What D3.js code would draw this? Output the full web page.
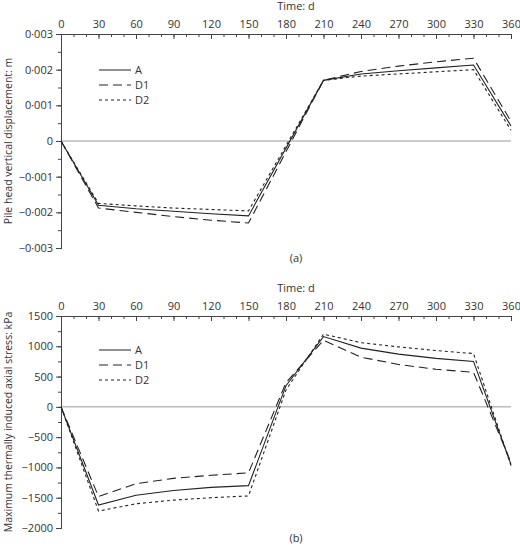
<!DOCTYPE html><html><head><meta charset="utf-8"><script src="https://cdn.jsdelivr.net/npm/d3@7"></script>
<style>body{margin:0;background:#fff}text{font-family:"Open Sans",sans-serif;fill:#333}</style></head><body><svg id="c" width="520" height="547"></svg>
<script>
const days=[0,30,60,90,120,150,210,240,270,300,330,360];
const dispA=[0,-0.0018,-0.0019,-0.00197,-0.00204,-0.0021,0.0017,0.00188,0.00197,0.00205,0.00213,0.00042];
const dispD1=[0,-0.00188,-0.002,-0.00212,-0.00222,-0.0023,0.0017,0.00195,0.0021,0.00222,0.00232,0.00055];
const dispD2=[0,-0.00175,-0.00182,-0.00188,-0.00192,-0.00196,0.0017,0.00182,0.00188,0.00194,0.002,0.0003];
const sDays=[0,30,60,90,120,150,180,210,240,270,300,330,360];
const stressA=[0,-1620,-1460,-1380,-1330,-1300,350,1160,970,870,800,750,-950];
const stressD1=[0,-1480,-1270,-1180,-1130,-1090,400,1100,820,700,620,570,-920];
const stressD2=[0,-1720,-1600,-1540,-1500,-1470,280,1200,1060,990,930,880,-970];
const xTicks=d3.range(0,361,30);
const dispTicks=[0.003,0.002,0.001,0,-0.001,-0.002,-0.003];
const stressTicks=[1500,1000,500,0,-500,-1000,-1500,-2000];
const series=["A","D1","D2"], dashes=[null,"9,5","3,3"];
const svg=d3.select("#c");
const fmtD=v=>v===0?"0":(v<0?"\u2212":"")+Math.abs(v).toFixed(3).replace(".","\u00b7");
const fmtS=v=>(v<0?"\u2212":"")+Math.abs(v);
function panel(top,bot,dom,yt,minorStep,fmt,xs,data,ylab,lab,legY){
  const x=d3.scaleLinear().domain([0,360]).range([61,511]);
  const y=d3.scaleLinear().domain(dom).range([top,bot]);
  const g=svg.append("g");
  g.append("line").attr("x1",61).attr("x2",511).attr("y1",y(0)).attr("y2",y(0)).attr("stroke","#999");
  g.append("g").attr("transform",`translate(0,${top})`).call(d3.axisTop(x).tickValues(xTicks).tickSize(-5).tickPadding(6));
  g.append("g").attr("transform",`translate(0,${top})`).call(d3.axisTop(x).tickValues(d3.range(0,361,10)).tickSize(-3).tickFormat(""));
  g.append("g").attr("transform","translate(61,0)").call(d3.axisLeft(y).tickValues(yt).tickSize(5).tickFormat(fmt));
  g.append("g").attr("transform","translate(61,0)").call(d3.axisLeft(y).tickValues(d3.range(dom[1],dom[0]+1e-9,minorStep)).tickSize(3).tickFormat(""));
  g.selectAll(".domain").attr("stroke","#444");g.selectAll(".tick line").attr("stroke","#444");
  g.selectAll("text").attr("font-size",11).attr("fill","#333").attr("font-family","Open Sans");
  g.append("text").attr("x",x(180)+10).attr("y",top-24).attr("text-anchor","middle").attr("font-size",11).text("Time: d");
  g.append("text").attr("x",x(180)+10).attr("y",bot+14).attr("text-anchor","middle").attr("font-size",11).text(lab);
  g.append("text").attr("transform",`translate(12,${(top+bot)/2}) rotate(-90)`).attr("text-anchor","middle").attr("font-size",10.5).text(ylab);
  const line=d3.line().x((d,i)=>x(xs[i])).y(d=>y(d));
  data.forEach((s,i)=>{
    g.append("path").attr("d",line(s)).attr("fill","none").attr("stroke","#222").attr("stroke-width",1.1).attr("stroke-dasharray",dashes[i]);
    g.append("line").attr("x1",99).attr("x2",131).attr("y1",legY+i*15).attr("y2",legY+i*15).attr("stroke","#222").attr("stroke-dasharray",dashes[i]);
    g.append("text").attr("x",135).attr("y",legY+i*15+4).attr("font-size",11).text(series[i]);
  });
}
panel(34,248,[0.003,-0.003],dispTicks,0.0005,fmtD,days,[dispA,dispD1,dispD2],"Pile head vertical displacement: m","(a)",70);
panel(316,528,[1500,-2000],stressTicks,250,fmtS,sDays,[stressA,stressD1,stressD2],"Maximum thermally induced axial stress: kPa","(b)",350);
</script></body></html>
